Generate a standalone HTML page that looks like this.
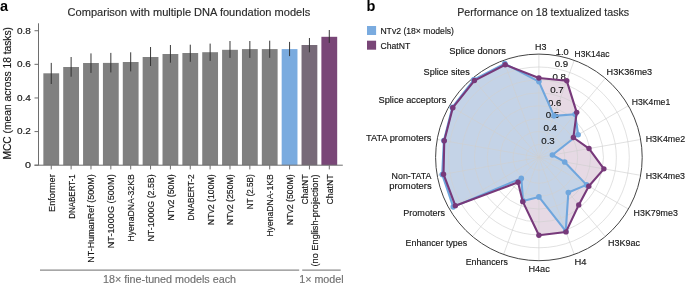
<!DOCTYPE html>
<html><head><meta charset="utf-8"><style>
html,body{margin:0;padding:0;background:#fff;width:685px;height:283px;overflow:hidden;}
svg{display:block;font-family:"Liberation Sans", sans-serif;will-change:transform;}
</style></head><body>
<svg width="685" height="283" viewBox="0 0 685 283" font-family='"Liberation Sans", sans-serif'><text x="0.00" y="11.00" font-size="14.5" fill="#000" text-anchor="start" font-weight="bold">a</text>
<text x="67.60" y="16.00" font-size="10.4" fill="#2a2a2a" text-anchor="start" stroke="#2a2a2a" stroke-width="0.15" textLength="242.60" lengthAdjust="spacingAndGlyphs">Comparison with multiple DNA foundation models</text>
<line x1="38.5" y1="23.3" x2="38.5" y2="165.2" stroke="#6e6e6e" stroke-width="1"/>
<line x1="34.5" y1="165.20" x2="38.5" y2="165.20" stroke="#6e6e6e" stroke-width="1"/>
<text x="30.90" y="168.10" font-size="8.2" fill="#161616" text-anchor="end" stroke="#161616" stroke-width="0.15" textLength="6.00" lengthAdjust="spacingAndGlyphs">0</text>
<line x1="34.5" y1="131.58" x2="38.5" y2="131.58" stroke="#6e6e6e" stroke-width="1"/>
<text x="30.90" y="134.48" font-size="8.2" fill="#161616" text-anchor="end" stroke="#161616" stroke-width="0.15" textLength="13.90" lengthAdjust="spacingAndGlyphs">0.2</text>
<line x1="34.5" y1="97.96" x2="38.5" y2="97.96" stroke="#6e6e6e" stroke-width="1"/>
<text x="30.90" y="100.86" font-size="8.2" fill="#161616" text-anchor="end" stroke="#161616" stroke-width="0.15" textLength="13.90" lengthAdjust="spacingAndGlyphs">0.4</text>
<line x1="34.5" y1="64.34" x2="38.5" y2="64.34" stroke="#6e6e6e" stroke-width="1"/>
<text x="30.90" y="67.24" font-size="8.2" fill="#161616" text-anchor="end" stroke="#161616" stroke-width="0.15" textLength="13.90" lengthAdjust="spacingAndGlyphs">0.6</text>
<line x1="34.5" y1="30.72" x2="38.5" y2="30.72" stroke="#6e6e6e" stroke-width="1"/>
<text x="30.90" y="33.62" font-size="8.2" fill="#161616" text-anchor="end" stroke="#161616" stroke-width="0.15" textLength="13.90" lengthAdjust="spacingAndGlyphs">0.8</text>
<text x="10.60" y="93.30" font-size="10.2" fill="#161616" text-anchor="middle" stroke="#161616" stroke-width="0.15" textLength="132.60" lengthAdjust="spacingAndGlyphs" transform="rotate(-90 10.60 93.30)">MCC (mean across 18 tasks)</text>
<rect x="43.35" y="73.30" width="15.80" height="91.90" fill="#808080"/>
<rect x="63.21" y="67.00" width="15.80" height="98.20" fill="#808080"/>
<rect x="83.07" y="63.00" width="15.80" height="102.20" fill="#808080"/>
<rect x="102.93" y="62.90" width="15.80" height="102.30" fill="#808080"/>
<rect x="122.79" y="62.00" width="15.80" height="103.20" fill="#808080"/>
<rect x="142.65" y="57.00" width="15.80" height="108.20" fill="#808080"/>
<rect x="162.51" y="54.00" width="15.80" height="111.20" fill="#808080"/>
<rect x="182.37" y="53.00" width="15.80" height="112.20" fill="#808080"/>
<rect x="202.23" y="52.20" width="15.80" height="113.00" fill="#808080"/>
<rect x="222.09" y="49.80" width="15.80" height="115.40" fill="#808080"/>
<rect x="241.95" y="49.10" width="15.80" height="116.10" fill="#808080"/>
<rect x="261.81" y="49.10" width="15.80" height="116.10" fill="#808080"/>
<rect x="281.67" y="49.10" width="15.80" height="116.10" fill="#7aabdf"/>
<rect x="301.53" y="45.00" width="15.80" height="120.20" fill="#776a78"/>
<rect x="321.39" y="36.80" width="15.80" height="128.40" fill="#794677"/>
<line x1="51.25" y1="62.90" x2="51.25" y2="84.00" stroke="#2e2e2e" stroke-width="0.95"/>
<line x1="51.25" y1="165.2" x2="51.25" y2="169.4" stroke="#6e6e6e" stroke-width="1"/>
<line x1="71.11" y1="57.00" x2="71.11" y2="76.70" stroke="#2e2e2e" stroke-width="0.95"/>
<line x1="71.11" y1="165.2" x2="71.11" y2="169.4" stroke="#6e6e6e" stroke-width="1"/>
<line x1="90.97" y1="53.40" x2="90.97" y2="72.90" stroke="#2e2e2e" stroke-width="0.95"/>
<line x1="90.97" y1="165.2" x2="90.97" y2="169.4" stroke="#6e6e6e" stroke-width="1"/>
<line x1="110.83" y1="52.90" x2="110.83" y2="72.40" stroke="#2e2e2e" stroke-width="0.95"/>
<line x1="110.83" y1="165.2" x2="110.83" y2="169.4" stroke="#6e6e6e" stroke-width="1"/>
<line x1="130.69" y1="52.30" x2="130.69" y2="71.40" stroke="#2e2e2e" stroke-width="0.95"/>
<line x1="130.69" y1="165.2" x2="130.69" y2="169.4" stroke="#6e6e6e" stroke-width="1"/>
<line x1="150.55" y1="47.00" x2="150.55" y2="66.00" stroke="#2e2e2e" stroke-width="0.95"/>
<line x1="150.55" y1="165.2" x2="150.55" y2="169.4" stroke="#6e6e6e" stroke-width="1"/>
<line x1="170.41" y1="45.00" x2="170.41" y2="62.70" stroke="#2e2e2e" stroke-width="0.95"/>
<line x1="170.41" y1="165.2" x2="170.41" y2="169.4" stroke="#6e6e6e" stroke-width="1"/>
<line x1="190.27" y1="44.70" x2="190.27" y2="61.80" stroke="#2e2e2e" stroke-width="0.95"/>
<line x1="190.27" y1="165.2" x2="190.27" y2="169.4" stroke="#6e6e6e" stroke-width="1"/>
<line x1="210.13" y1="43.60" x2="210.13" y2="60.90" stroke="#2e2e2e" stroke-width="0.95"/>
<line x1="210.13" y1="165.2" x2="210.13" y2="169.4" stroke="#6e6e6e" stroke-width="1"/>
<line x1="229.99" y1="41.00" x2="229.99" y2="57.90" stroke="#2e2e2e" stroke-width="0.95"/>
<line x1="229.99" y1="165.2" x2="229.99" y2="169.4" stroke="#6e6e6e" stroke-width="1"/>
<line x1="249.85" y1="41.00" x2="249.85" y2="57.90" stroke="#2e2e2e" stroke-width="0.95"/>
<line x1="249.85" y1="165.2" x2="249.85" y2="169.4" stroke="#6e6e6e" stroke-width="1"/>
<line x1="269.71" y1="40.70" x2="269.71" y2="57.80" stroke="#2e2e2e" stroke-width="0.95"/>
<line x1="269.71" y1="165.2" x2="269.71" y2="169.4" stroke="#6e6e6e" stroke-width="1"/>
<line x1="289.57" y1="41.90" x2="289.57" y2="56.10" stroke="#2e2e2e" stroke-width="0.95"/>
<line x1="289.57" y1="165.2" x2="289.57" y2="169.4" stroke="#6e6e6e" stroke-width="1"/>
<line x1="309.43" y1="38.00" x2="309.43" y2="52.30" stroke="#2e2e2e" stroke-width="0.95"/>
<line x1="309.43" y1="165.2" x2="309.43" y2="169.4" stroke="#6e6e6e" stroke-width="1"/>
<line x1="329.29" y1="30.00" x2="329.29" y2="42.90" stroke="#2e2e2e" stroke-width="0.95"/>
<line x1="329.29" y1="165.2" x2="329.29" y2="169.4" stroke="#6e6e6e" stroke-width="1"/>
<line x1="34.5" y1="165.2" x2="342.8" y2="165.2" stroke="#6e6e6e" stroke-width="1"/>
<text x="54.65" y="174.30" font-size="8.8" fill="#161616" text-anchor="end" stroke="#161616" stroke-width="0.15" textLength="37.60" lengthAdjust="spacingAndGlyphs" transform="rotate(-90 54.65 174.30)">Enformer</text>
<text x="74.51" y="174.30" font-size="8.8" fill="#161616" text-anchor="end" stroke="#161616" stroke-width="0.15" textLength="44.40" lengthAdjust="spacingAndGlyphs" transform="rotate(-90 74.51 174.30)">DNABERT-1</text>
<text x="94.37" y="174.30" font-size="8.8" fill="#161616" text-anchor="end" stroke="#161616" stroke-width="0.15" textLength="88.40" lengthAdjust="spacingAndGlyphs" transform="rotate(-90 94.37 174.30)">NT-HumanRef (500M)</text>
<text x="114.23" y="174.30" font-size="8.8" fill="#161616" text-anchor="end" stroke="#161616" stroke-width="0.15" textLength="74.00" lengthAdjust="spacingAndGlyphs" transform="rotate(-90 114.23 174.30)">NT-1000G (500M)</text>
<text x="134.09" y="174.30" font-size="8.8" fill="#161616" text-anchor="end" stroke="#161616" stroke-width="0.15" textLength="67.20" lengthAdjust="spacingAndGlyphs" transform="rotate(-90 134.09 174.30)">HyenaDNA-32KB</text>
<text x="153.95" y="174.30" font-size="8.8" fill="#161616" text-anchor="end" stroke="#161616" stroke-width="0.15" textLength="67.20" lengthAdjust="spacingAndGlyphs" transform="rotate(-90 153.95 174.30)">NT-1000G (2.5B)</text>
<text x="173.81" y="174.30" font-size="8.8" fill="#161616" text-anchor="end" stroke="#161616" stroke-width="0.15" textLength="46.20" lengthAdjust="spacingAndGlyphs" transform="rotate(-90 173.81 174.30)">NTv2 (50M)</text>
<text x="193.67" y="174.30" font-size="8.8" fill="#161616" text-anchor="end" stroke="#161616" stroke-width="0.15" textLength="46.20" lengthAdjust="spacingAndGlyphs" transform="rotate(-90 193.67 174.30)">DNABERT-2</text>
<text x="213.53" y="174.30" font-size="8.8" fill="#161616" text-anchor="end" stroke="#161616" stroke-width="0.15" textLength="50.90" lengthAdjust="spacingAndGlyphs" transform="rotate(-90 213.53 174.30)">NTv2 (100M)</text>
<text x="233.39" y="174.30" font-size="8.8" fill="#161616" text-anchor="end" stroke="#161616" stroke-width="0.15" textLength="50.90" lengthAdjust="spacingAndGlyphs" transform="rotate(-90 233.39 174.30)">NTv2 (250M)</text>
<text x="253.25" y="174.30" font-size="8.8" fill="#161616" text-anchor="end" stroke="#161616" stroke-width="0.15" textLength="34.90" lengthAdjust="spacingAndGlyphs" transform="rotate(-90 253.25 174.30)">NT (2.5B)</text>
<text x="273.11" y="174.30" font-size="8.8" fill="#161616" text-anchor="end" stroke="#161616" stroke-width="0.15" textLength="62.30" lengthAdjust="spacingAndGlyphs" transform="rotate(-90 273.11 174.30)">HyenaDNA-1KB</text>
<text x="292.97" y="174.30" font-size="8.8" fill="#161616" text-anchor="end" stroke="#161616" stroke-width="0.15" textLength="50.90" lengthAdjust="spacingAndGlyphs" transform="rotate(-90 292.97 174.30)">NTv2 (500M)</text>
<text x="308.43" y="174.30" font-size="8.8" fill="#161616" text-anchor="end" stroke="#161616" stroke-width="0.15" textLength="30.20" lengthAdjust="spacingAndGlyphs" transform="rotate(-90 308.43 174.30)">ChatNT</text>
<text x="317.93" y="174.30" font-size="8.8" fill="#161616" text-anchor="end" stroke="#161616" stroke-width="0.15" textLength="92.20" lengthAdjust="spacingAndGlyphs" transform="rotate(-90 317.93 174.30)">(no English-projection)</text>
<text x="332.69" y="174.30" font-size="8.8" fill="#161616" text-anchor="end" stroke="#161616" stroke-width="0.15" textLength="30.20" lengthAdjust="spacingAndGlyphs" transform="rotate(-90 332.69 174.30)">ChatNT</text>
<line x1="40" y1="270.2" x2="299.2" y2="270.2" stroke="#8a8a8a" stroke-width="1.2"/>
<line x1="302.2" y1="270.2" x2="340.7" y2="270.2" stroke="#8a8a8a" stroke-width="1.2"/>
<text x="103.00" y="282.60" font-size="10.2" fill="#707070" text-anchor="start" stroke="#707070" stroke-width="0.15" textLength="133.00" lengthAdjust="spacingAndGlyphs">18× fine-tuned models each</text>
<text x="299.20" y="282.60" font-size="10.2" fill="#707070" text-anchor="start" stroke="#707070" stroke-width="0.15" textLength="44.40" lengthAdjust="spacingAndGlyphs">1× model</text>
<text x="366.60" y="10.80" font-size="14.5" fill="#000" text-anchor="start" font-weight="bold">b</text>
<text x="457.20" y="16.30" font-size="10.4" fill="#2a2a2a" text-anchor="start" stroke="#2a2a2a" stroke-width="0.15" textLength="172.00" lengthAdjust="spacingAndGlyphs">Performance on 18 textualized tasks</text>
<rect x="367" y="26" width="9.1" height="9" fill="#7aabdf"/>
<rect x="367" y="40.7" width="9.1" height="9" fill="#794677"/>
<text x="380.40" y="33.90" font-size="9.0" fill="#161616" text-anchor="start" stroke="#161616" stroke-width="0.15" textLength="73.60" lengthAdjust="spacingAndGlyphs">NTv2 (18× models)</text>
<text x="380.40" y="48.60" font-size="9.0" fill="#161616" text-anchor="start" stroke="#161616" stroke-width="0.15" textLength="29.80" lengthAdjust="spacingAndGlyphs">ChatNT</text>
<polygon points="538.90,78.00 566.77,80.82 576.70,112.36 573.37,137.50 589.03,148.56 603.90,168.86 588.78,186.20 578.75,204.89 566.02,231.92 538.90,235.20 522.79,201.66 518.01,182.30 455.33,205.65 443.52,174.22 444.26,140.71 452.82,107.70 474.43,80.57 505.18,64.75" fill="#e6d9e4" stroke="none"/>
<polygon points="538.90,81.60 554.02,115.87 575.15,114.20 578.13,134.75 552.39,155.02 564.70,161.95 586.53,184.90 568.34,192.48 565.75,231.17 538.90,196.90 523.06,200.91 521.29,178.39 453.25,206.85 442.19,174.45 443.87,140.64 452.30,107.40 473.79,79.80 504.77,63.62" fill="#c4d3e7" stroke="none"/>
<circle cx="538.9" cy="157.4" r="12.91" fill="none" stroke="#cfcfcf" stroke-width="0.8" opacity="0.8"/>
<circle cx="538.9" cy="157.4" r="25.82" fill="none" stroke="#cfcfcf" stroke-width="0.8" opacity="0.8"/>
<circle cx="538.9" cy="157.4" r="38.74" fill="none" stroke="#cfcfcf" stroke-width="0.8" opacity="0.8"/>
<circle cx="538.9" cy="157.4" r="51.65" fill="none" stroke="#cfcfcf" stroke-width="0.8" opacity="0.8"/>
<circle cx="538.9" cy="157.4" r="64.56" fill="none" stroke="#cfcfcf" stroke-width="0.8" opacity="0.8"/>
<circle cx="538.9" cy="157.4" r="77.47" fill="none" stroke="#cfcfcf" stroke-width="0.8" opacity="0.8"/>
<circle cx="538.9" cy="157.4" r="90.39" fill="none" stroke="#cfcfcf" stroke-width="0.8" opacity="0.8"/>
<line x1="538.9" y1="157.4" x2="538.90" y2="54.10" stroke="#cfcfcf" stroke-width="0.8" opacity="0.8"/>
<line x1="538.9" y1="157.4" x2="574.23" y2="60.33" stroke="#cfcfcf" stroke-width="0.8" opacity="0.8"/>
<line x1="538.9" y1="157.4" x2="605.30" y2="78.27" stroke="#cfcfcf" stroke-width="0.8" opacity="0.8"/>
<line x1="538.9" y1="157.4" x2="628.36" y2="105.75" stroke="#cfcfcf" stroke-width="0.8" opacity="0.8"/>
<line x1="538.9" y1="157.4" x2="640.63" y2="139.46" stroke="#cfcfcf" stroke-width="0.8" opacity="0.8"/>
<line x1="538.9" y1="157.4" x2="640.63" y2="175.34" stroke="#cfcfcf" stroke-width="0.8" opacity="0.8"/>
<line x1="538.9" y1="157.4" x2="628.36" y2="209.05" stroke="#cfcfcf" stroke-width="0.8" opacity="0.8"/>
<line x1="538.9" y1="157.4" x2="605.30" y2="236.53" stroke="#cfcfcf" stroke-width="0.8" opacity="0.8"/>
<line x1="538.9" y1="157.4" x2="574.23" y2="254.47" stroke="#cfcfcf" stroke-width="0.8" opacity="0.8"/>
<line x1="538.9" y1="157.4" x2="538.90" y2="260.70" stroke="#cfcfcf" stroke-width="0.8" opacity="0.8"/>
<line x1="538.9" y1="157.4" x2="503.57" y2="254.47" stroke="#cfcfcf" stroke-width="0.8" opacity="0.8"/>
<line x1="538.9" y1="157.4" x2="472.50" y2="236.53" stroke="#cfcfcf" stroke-width="0.8" opacity="0.8"/>
<line x1="538.9" y1="157.4" x2="449.44" y2="209.05" stroke="#cfcfcf" stroke-width="0.8" opacity="0.8"/>
<line x1="538.9" y1="157.4" x2="437.17" y2="175.34" stroke="#cfcfcf" stroke-width="0.8" opacity="0.8"/>
<line x1="538.9" y1="157.4" x2="437.17" y2="139.46" stroke="#cfcfcf" stroke-width="0.8" opacity="0.8"/>
<line x1="538.9" y1="157.4" x2="449.44" y2="105.75" stroke="#cfcfcf" stroke-width="0.8" opacity="0.8"/>
<line x1="538.9" y1="157.4" x2="472.50" y2="78.27" stroke="#cfcfcf" stroke-width="0.8" opacity="0.8"/>
<line x1="538.9" y1="157.4" x2="503.57" y2="60.33" stroke="#cfcfcf" stroke-width="0.8" opacity="0.8"/>
<circle cx="538.9" cy="157.4" r="103.3" fill="none" stroke="#444" stroke-width="1.0"/>
<text x="541.24" y="143.78" font-size="8.6" fill="#161616" text-anchor="start" stroke="#161616" stroke-width="0.15" textLength="13.50" lengthAdjust="spacingAndGlyphs">0.3</text>
<text x="543.48" y="131.07" font-size="8.6" fill="#161616" text-anchor="start" stroke="#161616" stroke-width="0.15" textLength="13.50" lengthAdjust="spacingAndGlyphs">0.4</text>
<text x="545.73" y="118.35" font-size="8.6" fill="#161616" text-anchor="start" stroke="#161616" stroke-width="0.15" textLength="13.50" lengthAdjust="spacingAndGlyphs">0.5</text>
<text x="547.97" y="105.63" font-size="8.6" fill="#161616" text-anchor="start" stroke="#161616" stroke-width="0.15" textLength="13.50" lengthAdjust="spacingAndGlyphs">0.6</text>
<text x="550.21" y="92.92" font-size="8.6" fill="#161616" text-anchor="start" stroke="#161616" stroke-width="0.15" textLength="13.50" lengthAdjust="spacingAndGlyphs">0.7</text>
<text x="552.45" y="80.20" font-size="8.6" fill="#161616" text-anchor="start" stroke="#161616" stroke-width="0.15" textLength="13.50" lengthAdjust="spacingAndGlyphs">0.8</text>
<text x="554.70" y="67.49" font-size="8.6" fill="#161616" text-anchor="start" stroke="#161616" stroke-width="0.15" textLength="13.50" lengthAdjust="spacingAndGlyphs">0.9</text>
<text x="555.84" y="55.07" font-size="8.6" fill="#161616" text-anchor="start" stroke="#161616" stroke-width="0.15" textLength="12.90" lengthAdjust="spacingAndGlyphs">1.0</text>
<polygon points="538.90,81.60 554.02,115.87 575.15,114.20 578.13,134.75 552.39,155.02 564.70,161.95 586.53,184.90 568.34,192.48 565.75,231.17 538.90,196.90 523.06,200.91 521.29,178.39 453.25,206.85 442.19,174.45 443.87,140.64 452.30,107.40 473.79,79.80 504.77,63.62" fill="none" stroke="#6fa6dd" stroke-width="2.1" stroke-linejoin="round"/>
<circle cx="538.90" cy="81.60" r="2.8" fill="#6fa6dd"/>
<circle cx="554.02" cy="115.87" r="2.8" fill="#6fa6dd"/>
<circle cx="575.15" cy="114.20" r="2.8" fill="#6fa6dd"/>
<circle cx="578.13" cy="134.75" r="2.8" fill="#6fa6dd"/>
<circle cx="552.39" cy="155.02" r="2.8" fill="#6fa6dd"/>
<circle cx="564.70" cy="161.95" r="2.8" fill="#6fa6dd"/>
<circle cx="586.53" cy="184.90" r="2.8" fill="#6fa6dd"/>
<circle cx="568.34" cy="192.48" r="2.8" fill="#6fa6dd"/>
<circle cx="565.75" cy="231.17" r="2.8" fill="#6fa6dd"/>
<circle cx="538.90" cy="196.90" r="2.8" fill="#6fa6dd"/>
<circle cx="523.06" cy="200.91" r="2.8" fill="#6fa6dd"/>
<circle cx="521.29" cy="178.39" r="2.8" fill="#6fa6dd"/>
<circle cx="453.25" cy="206.85" r="2.8" fill="#6fa6dd"/>
<circle cx="442.19" cy="174.45" r="2.8" fill="#6fa6dd"/>
<circle cx="443.87" cy="140.64" r="2.8" fill="#6fa6dd"/>
<circle cx="452.30" cy="107.40" r="2.8" fill="#6fa6dd"/>
<circle cx="473.79" cy="79.80" r="2.8" fill="#6fa6dd"/>
<circle cx="504.77" cy="63.62" r="2.8" fill="#6fa6dd"/>
<polygon points="538.90,78.00 566.77,80.82 576.70,112.36 573.37,137.50 589.03,148.56 603.90,168.86 588.78,186.20 578.75,204.89 566.02,231.92 538.90,235.20 522.79,201.66 518.01,182.30 455.33,205.65 443.52,174.22 444.26,140.71 452.82,107.70 474.43,80.57 505.18,64.75" fill="none" stroke="#77397a" stroke-width="2.1" stroke-linejoin="round"/>
<circle cx="538.90" cy="78.00" r="2.7" fill="#77397a"/>
<circle cx="566.77" cy="80.82" r="2.7" fill="#77397a"/>
<circle cx="576.70" cy="112.36" r="2.7" fill="#77397a"/>
<circle cx="573.37" cy="137.50" r="2.7" fill="#77397a"/>
<circle cx="589.03" cy="148.56" r="2.7" fill="#77397a"/>
<circle cx="603.90" cy="168.86" r="2.7" fill="#77397a"/>
<circle cx="588.78" cy="186.20" r="2.7" fill="#77397a"/>
<circle cx="578.75" cy="204.89" r="2.7" fill="#77397a"/>
<circle cx="566.02" cy="231.92" r="2.7" fill="#77397a"/>
<circle cx="538.90" cy="235.20" r="2.7" fill="#77397a"/>
<circle cx="522.79" cy="201.66" r="2.7" fill="#77397a"/>
<circle cx="518.01" cy="182.30" r="2.7" fill="#77397a"/>
<circle cx="455.33" cy="205.65" r="2.7" fill="#77397a"/>
<circle cx="443.52" cy="174.22" r="2.7" fill="#77397a"/>
<circle cx="444.26" cy="140.71" r="2.7" fill="#77397a"/>
<circle cx="452.82" cy="107.70" r="2.7" fill="#77397a"/>
<circle cx="474.43" cy="80.57" r="2.7" fill="#77397a"/>
<circle cx="505.18" cy="64.75" r="2.7" fill="#77397a"/>
<text x="535.00" y="49.60" font-size="8.9" fill="#161616" text-anchor="start" stroke="#161616" stroke-width="0.15" textLength="11.40" lengthAdjust="spacingAndGlyphs">H3</text>
<text x="574.60" y="56.90" font-size="8.9" fill="#161616" text-anchor="start" stroke="#161616" stroke-width="0.15" textLength="34.80" lengthAdjust="spacingAndGlyphs">H3K14ac</text>
<text x="606.60" y="75.00" font-size="8.9" fill="#161616" text-anchor="start" stroke="#161616" stroke-width="0.15" textLength="45.50" lengthAdjust="spacingAndGlyphs">H3K36me3</text>
<text x="631.80" y="105.10" font-size="8.9" fill="#161616" text-anchor="start" stroke="#161616" stroke-width="0.15" textLength="38.40" lengthAdjust="spacingAndGlyphs">H3K4me1</text>
<text x="645.70" y="141.80" font-size="8.9" fill="#161616" text-anchor="start" stroke="#161616" stroke-width="0.15" textLength="39.40" lengthAdjust="spacingAndGlyphs">H3K4me2</text>
<text x="645.70" y="179.10" font-size="8.9" fill="#161616" text-anchor="start" stroke="#161616" stroke-width="0.15" textLength="39.30" lengthAdjust="spacingAndGlyphs">H3K4me3</text>
<text x="633.60" y="216.10" font-size="8.9" fill="#161616" text-anchor="start" stroke="#161616" stroke-width="0.15" textLength="44.20" lengthAdjust="spacingAndGlyphs">H3K79me3</text>
<text x="608.00" y="245.90" font-size="8.9" fill="#161616" text-anchor="start" stroke="#161616" stroke-width="0.15" textLength="32.00" lengthAdjust="spacingAndGlyphs">H3K9ac</text>
<text x="574.60" y="265.00" font-size="8.9" fill="#161616" text-anchor="start" stroke="#161616" stroke-width="0.15" textLength="12.00" lengthAdjust="spacingAndGlyphs">H4</text>
<text x="528.40" y="272.10" font-size="8.9" fill="#161616" text-anchor="start" stroke="#161616" stroke-width="0.15" textLength="21.40" lengthAdjust="spacingAndGlyphs">H4ac</text>
<text x="465.70" y="265.30" font-size="8.9" fill="#161616" text-anchor="start" stroke="#161616" stroke-width="0.15" textLength="42.10" lengthAdjust="spacingAndGlyphs">Enhancers</text>
<text x="405.60" y="246.30" font-size="8.9" fill="#161616" text-anchor="start" stroke="#161616" stroke-width="0.15" textLength="61.50" lengthAdjust="spacingAndGlyphs">Enhancer types</text>
<text x="403.30" y="216.30" font-size="8.9" fill="#161616" text-anchor="start" stroke="#161616" stroke-width="0.15" textLength="41.70" lengthAdjust="spacingAndGlyphs">Promoters</text>
<text x="366.00" y="140.60" font-size="8.9" fill="#161616" text-anchor="start" stroke="#161616" stroke-width="0.15" textLength="65.40" lengthAdjust="spacingAndGlyphs">TATA promoters</text>
<text x="378.50" y="103.30" font-size="8.9" fill="#161616" text-anchor="start" stroke="#161616" stroke-width="0.15" textLength="67.80" lengthAdjust="spacingAndGlyphs">Splice acceptors</text>
<text x="423.60" y="74.80" font-size="8.9" fill="#161616" text-anchor="start" stroke="#161616" stroke-width="0.15" textLength="46.10" lengthAdjust="spacingAndGlyphs">Splice sites</text>
<text x="449.30" y="54.00" font-size="8.9" fill="#161616" text-anchor="start" stroke="#161616" stroke-width="0.15" textLength="56.70" lengthAdjust="spacingAndGlyphs">Splice donors</text>
<text x="391.60" y="179.00" font-size="8.9" fill="#161616" text-anchor="start" stroke="#161616" stroke-width="0.15" textLength="39.90" lengthAdjust="spacingAndGlyphs">Non-TATA</text>
<text x="389.20" y="188.90" font-size="8.9" fill="#161616" text-anchor="start" stroke="#161616" stroke-width="0.15" textLength="42.50" lengthAdjust="spacingAndGlyphs">promoters</text></svg>
</body></html>
